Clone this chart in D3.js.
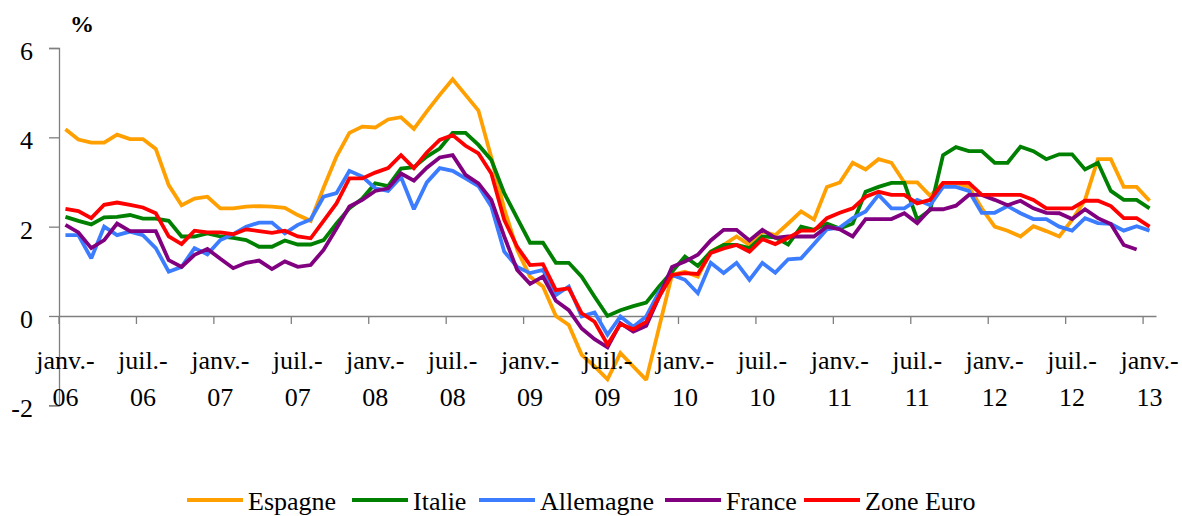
<!DOCTYPE html>
<html><head><meta charset="utf-8">
<script src="https://cdn.jsdelivr.net/npm/d3@7"></script>
</head>
<body style="margin:0"><svg id="chart" width="1182" height="516"></svg>
<script>
const months = [
"2006-01","2006-02","2006-03","2006-04","2006-05","2006-06","2006-07","2006-08","2006-09","2006-10","2006-11","2006-12",
"2007-01","2007-02","2007-03","2007-04","2007-05","2007-06","2007-07","2007-08","2007-09","2007-10","2007-11","2007-12",
"2008-01","2008-02","2008-03","2008-04","2008-05","2008-06","2008-07","2008-08","2008-09","2008-10","2008-11","2008-12",
"2009-01","2009-02","2009-03","2009-04","2009-05","2009-06","2009-07","2009-08","2009-09","2009-10","2009-11","2009-12",
"2010-01","2010-02","2010-03","2010-04","2010-05","2010-06","2010-07","2010-08","2010-09","2010-10","2010-11","2010-12",
"2011-01","2011-02","2011-03","2011-04","2011-05","2011-06","2011-07","2011-08","2011-09","2011-10","2011-11","2011-12",
"2012-01","2012-02","2012-03","2012-04","2012-05","2012-06","2012-07","2012-08","2012-09","2012-10","2012-11","2012-12",
"2013-01"];

const tickMonths = ["2006-01","2006-07","2007-01","2007-07","2008-01","2008-07","2009-01","2009-07","2010-01","2010-07","2011-01","2011-07","2012-01","2012-07","2013-01"];
const tickLine1 = ["janv.-","juil.-","janv.-","juil.-","janv.-","juil.-","janv.-","juil.-","janv.-","juil.-","janv.-","juil.-","janv.-","juil.-","janv.-"];
const tickLine2 = ["06","06","07","07","08","08","09","09","10","10","11","11","12","12","13"];
const yTicks = [-2, 0, 2, 4, 6];

const seriesNames = ["Espagne","Italie","Allemagne","France","Zone Euro"];
const seriesColors = ["#FFA000","#008000","#3C7CFF","#800080","#FF0000"];

const espagne = [4.18,3.95,3.88,3.88,4.06,3.96,3.96,3.74,2.93,2.48,2.63,2.67,
2.41,2.41,2.45,2.46,2.45,2.42,2.26,2.13,2.87,3.57,4.10,4.24,
4.22,4.40,4.45,4.19,4.58,4.95,5.30,4.95,4.60,3.55,2.40,1.48,
0.88,0.66,0.00,-0.20,-0.87,-1.13,-1.42,-0.83,-1.13,-1.43,-0.25,0.92,
0.99,0.88,1.44,1.59,1.78,1.59,1.89,1.81,2.07,2.34,2.16,2.89,
2.99,3.43,3.28,3.51,3.43,2.99,2.99,2.69,2.98,2.98,2.89,2.41,
2.00,1.91,1.78,2.01,1.90,1.78,2.15,2.60,3.51,3.51,2.89,2.89,
2.58];
const italie = [2.22,2.13,2.05,2.21,2.22,2.26,2.18,2.18,2.13,1.78,1.78,1.85,
1.78,1.75,1.70,1.55,1.55,1.69,1.60,1.60,1.70,2.07,2.41,2.63,
2.97,2.91,3.30,3.33,3.57,3.75,4.10,4.10,3.83,3.49,2.75,2.19,
1.64,1.64,1.19,1.19,0.88,0.43,0.00,0.13,0.22,0.30,0.66,0.99,
1.33,1.12,1.44,1.59,1.59,1.52,1.78,1.76,1.60,2.00,1.93,2.07,
1.96,2.07,2.78,2.89,2.98,2.98,2.16,2.37,3.60,3.78,3.69,3.69,
3.43,3.43,3.79,3.69,3.51,3.62,3.62,3.28,3.43,2.80,2.60,2.60,
2.41];
const allemagne = [1.81,1.81,1.29,2.00,1.81,1.89,1.81,1.52,0.99,1.10,1.52,1.38,
1.70,1.83,2.00,2.09,2.09,1.85,2.04,2.16,2.67,2.75,3.25,3.12,
2.86,2.80,3.11,2.39,2.99,3.31,3.25,3.08,2.91,2.45,1.44,1.10,
0.96,1.03,0.47,0.66,-0.01,0.08,-0.42,-0.01,-0.24,-0.01,0.54,0.92,
0.81,0.51,1.19,0.96,1.19,0.81,1.19,0.97,1.27,1.29,1.61,1.94,
1.98,2.19,2.34,2.71,2.41,2.41,2.60,2.48,2.89,2.89,2.80,2.31,
2.31,2.46,2.30,2.17,2.17,2.00,1.91,2.19,2.08,2.06,1.91,2.01,
1.91];
const france = [2.04,1.87,1.52,1.70,2.07,1.90,1.90,1.90,1.25,1.10,1.37,1.50,
1.28,1.07,1.19,1.24,1.05,1.22,1.10,1.14,1.48,1.96,2.45,2.60,
2.80,2.86,3.19,3.03,3.32,3.55,3.60,3.16,2.97,2.60,1.78,1.03,
0.72,0.88,0.34,0.13,-0.28,-0.52,-0.70,-0.16,-0.35,-0.22,0.43,1.10,
1.22,1.37,1.69,1.93,1.93,1.69,1.93,1.75,1.78,1.78,1.78,2.00,
1.94,1.78,2.17,2.17,2.17,2.30,2.08,2.39,2.39,2.47,2.71,2.71,
2.60,2.48,2.58,2.41,2.31,2.30,2.17,2.39,2.19,2.06,1.59,1.49,
null];
const zoneEuro = [2.40,2.35,2.19,2.49,2.54,2.49,2.43,2.30,1.78,1.61,1.91,1.87,
1.87,1.83,1.94,1.90,1.86,1.91,1.78,1.74,2.13,2.52,3.08,3.08,
3.21,3.31,3.60,3.31,3.66,3.94,4.05,3.81,3.64,3.19,2.15,1.55,
1.14,1.16,0.58,0.62,0.06,-0.13,-0.64,-0.18,-0.30,-0.13,0.43,0.92,
0.96,0.94,1.41,1.51,1.59,1.44,1.72,1.61,1.75,1.91,1.91,2.19,
2.31,2.41,2.67,2.78,2.71,2.71,2.52,2.60,2.98,2.98,2.98,2.71,
2.71,2.71,2.71,2.60,2.41,2.41,2.41,2.58,2.58,2.46,2.19,2.19,
2.00];

const seriesValues = [espagne, italie, allemagne, france, zoneEuro];

const FONT = "'Liberation Serif'";
const svg = d3.select("#chart");
const plotLeft = 59, plotRight = 1156, yTop = 48, yBottom = 405.3;

const x = d3.scaleBand().domain(months).range([plotLeft, plotRight]).padding(0);
const y = d3.scaleLinear().domain([-2, 6]).range([yBottom, yTop]);
const bw = x.bandwidth();
const cx = d => x(d) + bw / 2;
const axisColor = "#7f7f7f";

// Y axis
const yAxis = d3.axisLeft(y).tickValues(yTicks).tickSize(10).tickFormat("");
const gy = svg.append("g").attr("transform", `translate(${plotLeft},0)`).call(yAxis);
gy.select(".domain").attr("stroke", axisColor).attr("stroke-width", 1.3);
gy.selectAll(".tick line").attr("stroke", axisColor).attr("stroke-width", 1.3);

// X axis at y=0
const xAxis = d3.axisBottom(x).tickValues(tickMonths).tickSize(8).tickSizeOuter(0).tickFormat("");
const gx = svg.append("g").attr("transform", `translate(0,${y(0)})`).call(xAxis);
gx.select(".domain").attr("stroke", axisColor).attr("stroke-width", 1.3);
gx.selectAll(".tick line").attr("stroke", axisColor).attr("stroke-width", 1.3)
  .attr("x1", -bw / 2).attr("x2", -bw / 2);

// Lines
const line = d3.line().defined(v => v !== null).x((v, i) => cx(months[i])).y(v => y(v));
svg.append("g").selectAll("path").data(seriesValues).join("path")
  .attr("d", d => line(d))
  .attr("fill", "none")
  .attr("stroke", (d, i) => seriesColors[i])
  .attr("stroke-width", 3.8)
  .attr("stroke-linejoin", "miter").attr("stroke-miterlimit", 2);

// Y labels
svg.selectAll("text.ylab").data(yTicks).join("text").attr("class", "ylab")
  .attr("x", 33).attr("y", d => y(d) + 12)
  .attr("text-anchor", "end").attr("font-size", 26).attr("font-family", FONT)
  .text(d => d);

// X labels (two lines)
svg.selectAll("text.xl1").data(tickMonths).join("text").attr("class", "xl1")
  .attr("x", d => cx(d)).attr("y", y(0) + 53)
  .attr("text-anchor", "middle").attr("font-size", 26).attr("font-family", FONT)
  .text((d, i) => tickLine1[i]);
svg.selectAll("text.xl2").data(tickMonths).join("text").attr("class", "xl2")
  .attr("x", d => cx(d)).attr("y", y(0) + 90)
  .attr("text-anchor", "middle").attr("font-size", 26).attr("font-family", FONT)
  .text((d, i) => tickLine2[i]);

// % unit
svg.append("text").attr("x", 70).attr("y", 32).attr("font-size", 24).attr("font-weight", "bold")
  .attr("font-family", FONT).text("%");

// Legend
const legendX = [187, 352, 479, 665, 804];
const ly = 500;
svg.selectAll("line.leg").data(seriesNames).join("line").attr("class", "leg")
  .attr("x1", (d, i) => legendX[i]).attr("x2", (d, i) => legendX[i] + 56)
  .attr("y1", ly).attr("y2", ly)
  .attr("stroke", (d, i) => seriesColors[i]).attr("stroke-width", 3.8);
svg.selectAll("text.leg").data(seriesNames).join("text").attr("class", "leg")
  .attr("x", (d, i) => legendX[i] + 61).attr("y", ly + 10)
  .attr("font-size", 26).attr("font-family", FONT)
  .text(d => d);
</script>
</body></html>
